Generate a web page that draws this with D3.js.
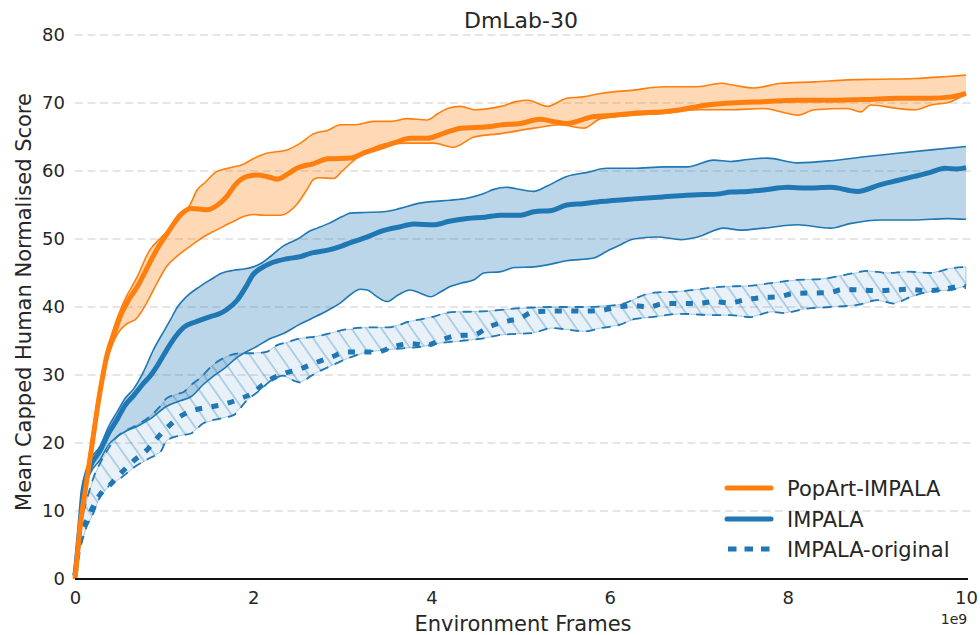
<!DOCTYPE html>
<html>
<head>
<meta charset="utf-8">
<script src="https://cdn.jsdelivr.net/npm/d3@7"></script>
<style>
  html, body { margin: 0; padding: 0; background: #fff; }
  svg text { font-family: "DejaVu Sans", sans-serif; fill: #262626; }
</style>
</head>
<body>
<svg id="chart" width="980" height="635"></svg>
<script>
// ---------------- data (x in units of 1e9 frames, y = score) ----------------
const title = "DmLab-30";
const xLabel = "Environment Frames";
const yLabel = "Mean Capped Human Normalised Score";
const xTicks = [0, 2, 4, 6, 8, 10];
const yTicks = [0, 10, 20, 30, 40, 50, 60, 70, 80];
const seriesNames = ["PopArt-IMPALA", "IMPALA", "IMPALA-original"];

const popartMean = [[0,0],[0.03,4],[0.06,8],[0.11,12.5],[0.16,17],[0.2,20.5],[0.25,25],[0.3,29],[0.36,33],[0.45,36.5],[0.52,39],[0.6,41],[0.7,43],[0.8,45.5],[0.92,48.5],[1.07,51.5],[1.18,53.5],[1.3,54.5],[1.48,54.3],[1.6,55],[1.7,56.2],[1.8,58],[1.93,59.2],[2.05,59.4],[2.15,59.2],[2.27,58.8],[2.38,59.5],[2.49,60.4],[2.68,61.1],[2.84,61.8],[3.09,61.9],[3.25,62.7],[3.46,63.6],[3.6,64.2],[3.76,64.8],[3.95,64.8],[4.15,65.6],[4.33,66.3],[4.63,66.5],[4.8,66.8],[5.0,67.0],[5.22,67.6],[5.4,67.2],[5.52,67.0],[5.82,68.0],[6.05,68.2],[6.27,68.5],[6.61,68.7],[6.8,69.0],[6.99,69.5],[7.36,70.0],[7.73,70.2],[8.11,70.4],[8.48,70.4],[8.86,70.5],[9.23,70.7],[9.61,70.7],[9.83,70.9],[10,71.4]];
const popartUpper = [[0,0],[0.03,4.5],[0.06,9],[0.11,13.5],[0.2,22],[0.3,30],[0.38,34.5],[0.45,37.5],[0.54,40.5],[0.7,44.5],[0.84,48.4],[0.95,50],[1.07,51.5],[1.2,53.5],[1.29,55],[1.37,57.2],[1.45,58.2],[1.59,59.9],[1.75,60.5],[1.89,61],[2.0,61.8],[2.15,62.6],[2.38,63.1],[2.53,64.1],[2.68,65.5],[2.84,66],[2.98,66.8],[3.15,66.8],[3.35,67.3],[3.55,67.3],[3.73,67.7],[3.95,67.5],[4.08,68.5],[4.18,69.2],[4.33,69.5],[4.48,69.0],[4.6,69.1],[4.78,69.5],[4.95,70.2],[5.08,70.4],[5.3,69.5],[5.52,70.7],[5.7,70.9],[5.9,71.4],[6.27,71.9],[6.61,72.4],[6.99,72.4],[7.25,72.9],[7.4,72.6],[7.62,72.2],[7.92,72.9],[8.3,73.1],[8.67,73.4],[9.04,73.5],[9.42,73.6],[9.79,73.9],[10,74.1]];
const popartLower = [[0,0],[0.03,3.5],[0.06,7.5],[0.11,12],[0.16,16.5],[0.2,20],[0.25,24.5],[0.3,28],[0.36,32],[0.42,34.5],[0.5,36.5],[0.58,37.5],[0.69,38.3],[0.8,40.5],[0.92,43.5],[1.03,46],[1.14,47.4],[1.3,49],[1.44,50.3],[1.63,51.6],[1.78,52.6],[1.89,53.3],[2.0,53.6],[2.12,53.5],[2.3,53.5],[2.4,54],[2.49,55.1],[2.6,57.2],[2.68,58.8],[2.75,59],[2.9,58.9],[3.0,60],[3.09,61.1],[3.2,62.3],[3.3,63.1],[3.5,64],[3.75,64.1],[4.03,64.1],[4.25,63.5],[4.48,65.0],[4.78,65.5],[5.15,66.3],[5.45,66.8],[5.71,66.3],[5.9,67.7],[6.27,68.2],[6.61,68.5],[6.99,69.0],[7.36,69.0],[7.73,69.2],[7.95,68.6],[8.11,68.2],[8.3,69.0],[8.67,69.2],[8.82,68.7],[8.93,69.7],[9.23,69.2],[9.42,69.0],[9.61,69.7],[9.83,70.2],[10,71.4]];

const impalaMean = [[0,0.5],[0.02,3],[0.06,8.7],[0.09,13],[0.17,16.5],[0.28,18.8],[0.38,21.5],[0.47,23.4],[0.56,25.5],[0.66,27],[0.77,28.8],[0.84,29.8],[0.93,31.5],[1.03,33.7],[1.12,35.5],[1.22,37],[1.35,37.8],[1.52,38.6],[1.62,39],[1.7,39.6],[1.82,41],[1.92,43],[2.0,44.8],[2.1,45.8],[2.19,46.4],[2.38,47.1],[2.53,47.4],[2.64,47.9],[2.85,48.4],[3.0,49],[3.1,49.5],[3.28,50.3],[3.45,51.2],[3.65,51.8],[3.8,52.2],[4.03,52.1],[4.2,52.6],[4.4,53.0],[4.6,53.2],[4.78,53.5],[5.0,53.5],[5.15,54.0],[5.35,54.2],[5.52,55.0],[5.7,55.2],[5.9,55.5],[6.27,55.9],[6.61,56.2],[6.99,56.5],[7.2,56.6],[7.36,56.9],[7.55,57.0],[7.73,57.2],[8.0,57.6],[8.2,57.5],[8.48,57.6],[8.78,57.0],[9.04,58.0],[9.23,58.6],[9.42,59.2],[9.6,59.8],[9.76,60.4],[9.9,60.3],[10,60.5]];
const impalaUpper = [[0,0.5],[0.02,3.5],[0.06,9.5],[0.09,14],[0.17,17.5],[0.28,19.5],[0.38,22.5],[0.47,24.5],[0.56,26.5],[0.66,28],[0.77,30.5],[0.88,33.7],[1.0,36.5],[1.07,38.1],[1.15,40],[1.25,41.5],[1.4,43],[1.52,44],[1.65,45],[1.78,45.4],[1.9,45.6],[2.0,45.9],[2.1,46.5],[2.2,47.5],[2.34,49],[2.5,50],[2.64,51.2],[2.72,51.6],[2.85,52.3],[3.0,53.3],[3.09,53.8],[3.25,53.9],[3.46,54.0],[3.65,54.5],[3.84,55.2],[4.0,55.5],[4.21,55.7],[4.4,56.0],[4.59,56.7],[4.7,57.3],[4.85,57.6],[4.95,57.4],[5.15,57.0],[5.3,57.8],[5.52,59.2],[5.75,59.8],[5.97,60.4],[6.27,60.4],[6.61,60.6],[6.87,60.6],[7.17,61.6],[7.36,61.4],[7.55,61.7],[7.77,61.9],[8.11,61.2],[8.48,61.5],[8.86,62.1],[9.23,62.6],[9.61,63.1],[10,63.6]];
const impalaLower = [[0,0.5],[0.02,2.5],[0.06,8],[0.09,12],[0.17,15.5],[0.28,17.5],[0.38,19.8],[0.47,20.9],[0.58,21.8],[0.69,22.4],[0.84,23.5],[1.03,25.4],[1.18,26.2],[1.3,26.8],[1.44,28.6],[1.55,29.8],[1.68,31],[1.82,32.6],[2.04,34.2],[2.2,35.4],[2.34,36.1],[2.5,37.3],[2.64,38.2],[2.85,39.6],[2.98,40.6],[3.09,41.8],[3.2,42.6],[3.28,42.5],[3.38,41.6],[3.5,40.8],[3.63,41.8],[3.76,42.5],[3.88,42.0],[3.99,41.5],[4.1,42.2],[4.21,43.0],[4.33,43.5],[4.48,44.0],[4.59,45.0],[4.78,45.2],[4.93,45.8],[5.15,45.9],[5.3,46.2],[5.52,46.8],[5.82,47.2],[5.97,48.2],[6.1,49],[6.27,50.0],[6.54,50.3],[6.8,49.9],[6.99,50.3],[7.28,51.6],[7.47,51.3],[7.73,51.6],[8.11,52.1],[8.48,51.6],[8.71,52.3],[9.04,52.8],[9.42,52.8],[9.79,53.0],[10,52.9]];

const originalMean = [[0,0.5],[0.03,3.5],[0.06,5.7],[0.17,9.7],[0.28,12.4],[0.39,13.8],[0.51,15.5],[0.66,17.4],[0.81,19.0],[0.92,20.7],[1.03,22.2],[1.18,23.9],[1.33,24.8],[1.52,25.3],[1.7,25.8],[1.85,26.5],[2.0,27.4],[2.1,28.5],[2.19,29.3],[2.34,30.2],[2.53,30.9],[2.68,31.7],[2.87,32.6],[3.05,33.4],[3.39,33.4],[3.58,34.2],[3.76,34.6],[3.95,34.4],[4.10,35.1],[4.29,35.8],[4.48,35.9],[4.63,37.0],[4.81,37.8],[5.0,38.4],[5.15,39.3],[5.34,39.4],[5.52,39.4],[5.71,39.4],[5.9,39.5],[6.09,40.0],[6.27,40.2],[6.44,40.0],[6.61,40.5],[6.99,40.5],[7.17,40.8],[7.34,40.6],[7.53,41.1],[7.72,41.4],[7.9,41.5],[8.07,42.0],[8.45,42.1],[8.63,42.6],[9.01,42.4],[9.19,42.5],[9.36,42.6],[9.55,42.4],[9.74,42.6],[9.92,43.0],[10,43.0]];
const originalUpper = [[0,0.5],[0.02,3.5],[0.06,7.5],[0.13,11.5],[0.21,15],[0.3,17.5],[0.39,19.5],[0.47,20.9],[0.58,21.9],[0.69,22.6],[0.84,23.9],[0.95,25.3],[1.03,26.6],[1.15,27.2],[1.22,27.5],[1.3,28.5],[1.4,29.5],[1.55,31.5],[1.7,32.7],[1.85,33.2],[2.0,33.2],[2.15,33.4],[2.27,34.4],[2.38,34.8],[2.53,35.4],[2.68,35.6],[2.85,36.1],[3.0,36.6],[3.28,37.0],[3.5,37.0],[3.65,37.4],[3.73,37.8],[3.84,38.1],[4.03,38.6],[4.15,39.1],[4.29,39.3],[4.4,39.3],[4.63,39.4],[4.96,39.8],[5.34,40.0],[5.71,40.0],[6.09,40.3],[6.2,40.7],[6.3,41.3],[6.39,41.8],[6.5,42.1],[6.8,42.3],[6.99,42.6],[7.28,43.0],[7.55,43.1],[7.81,43.5],[8.11,44.0],[8.37,44.1],[8.63,44.7],[8.9,45.3],[9.12,45.0],[9.35,45.2],[9.61,45.0],[9.83,45.7],[10,45.9]];
const originalLower = [[0,0.5],[0.02,3.5],[0.06,4.8],[0.13,7.7],[0.2,9.5],[0.28,12.1],[0.39,13.8],[0.51,14.8],[0.66,16.4],[0.84,17.8],[0.96,18.7],[1.03,20.4],[1.18,21.1],[1.3,21.4],[1.44,22.9],[1.63,23.6],[1.78,24.1],[1.93,26.3],[2.08,27.8],[2.2,29.2],[2.34,29.9],[2.45,29.2],[2.53,28.9],[2.64,29.8],[2.72,30.4],[2.9,31.5],[3.09,32.6],[3.28,33.4],[3.65,33.9],[3.91,34.2],[4.1,34.7],[4.4,35.1],[4.59,35.4],[4.78,35.9],[5.15,36.2],[5.34,36.9],[5.52,36.7],[5.71,36.4],[5.9,36.9],[6.12,37.4],[6.27,38.2],[6.46,38.5],[6.8,39.0],[7.17,38.8],[7.36,38.8],[7.58,38.5],[7.81,39.3],[7.96,39.1],[8.18,39.7],[8.48,40.0],[8.78,40.3],[9.01,41.0],[9.19,40.5],[9.38,41.5],[9.61,42.3],[9.83,42.5],[10,43.1]];

// ---------------- drawing ----------------
const ORANGE = "#ff7f0e", BLUE = "#1f77b4";
const svg = d3.select("#chart");
const x = d3.scaleLinear().domain([0, 10]).range([75, 966]);
const y = d3.scaleLinear().domain([0, 80]).range([579, 35]);

const defs = svg.append("defs");
const pat = defs.append("pattern")
  .attr("id", "hatch").attr("patternUnits", "userSpaceOnUse")
  .attr("width", 12.3).attr("height", 20)
  .attr("patternTransform", "rotate(-35)");
pat.append("line").attr("x1", 1).attr("y1", 0).attr("x2", 1).attr("y2", 20)
  .attr("stroke", BLUE).attr("stroke-opacity", 0.55).attr("stroke-width", 1);

// gridlines (horizontal, dashed)
const grid = svg.append("g");
grid.selectAll("line").data(yTicks.filter(d => d > 0)).join("line")
  .attr("x1", 75).attr("x2", 975)
  .attr("y1", d => y(d)).attr("y2", d => y(d))
  .attr("stroke", "#cccccc").attr("stroke-width", 1)
  .attr("stroke-dasharray", "8,4.5");

const line = d3.line().x(d => x(d[0])).y(d => y(d[1])).curve(d3.curveMonotoneX);
function band(upper, lower) {
  const pts = upper.concat(lower.slice().reverse());
  return d3.line().x(d => x(d[0])).y(d => y(d[1]))(pts) + "Z";
}

// band fills
svg.append("path").attr("d", band(impalaUpper, impalaLower))
  .attr("fill", BLUE).attr("fill-opacity", 0.3);
svg.append("path").attr("d", band(popartUpper, popartLower))
  .attr("fill", ORANGE).attr("fill-opacity", 0.3);
svg.append("path").attr("d", band(originalUpper, originalLower))
  .attr("fill", BLUE).attr("fill-opacity", 0.1)
  .attr("stroke", BLUE).attr("stroke-opacity", 0.35).attr("stroke-width", 1);
svg.append("path").attr("d", band(originalUpper, originalLower))
  .attr("fill", "url(#hatch)");

// band edges
[originalUpper, originalLower].forEach(s => {
  svg.append("path").attr("d", line(s)).attr("fill", "none")
    .attr("stroke", BLUE).attr("stroke-width", 1.8).attr("stroke-dasharray", "9,7");
});
[impalaUpper, impalaLower].forEach(s => {
  svg.append("path").attr("d", line(s)).attr("fill", "none")
    .attr("stroke", BLUE).attr("stroke-width", 1.6);
});
[popartUpper, popartLower].forEach(s => {
  svg.append("path").attr("d", line(s)).attr("fill", "none")
    .attr("stroke", ORANGE).attr("stroke-width", 1.6);
});

// means
svg.append("path").attr("d", line(originalMean)).attr("fill", "none")
  .attr("stroke", BLUE).attr("stroke-width", 5).attr("stroke-dasharray", "7,9.5");
svg.append("path").attr("d", line(impalaMean)).attr("fill", "none")
  .attr("stroke", BLUE).attr("stroke-width", 5);
svg.append("path").attr("d", line(popartMean)).attr("fill", "none")
  .attr("stroke", ORANGE).attr("stroke-width", 5);

// x axis baseline
svg.append("line").attr("x1", x(0)).attr("x2", x(10) + 2)
  .attr("y1", y(0)).attr("y2", y(0))
  .attr("stroke", "#111").attr("stroke-width", 2);

// axes labels via d3 axes (no domain, no tick lines)
const xAxis = svg.append("g").attr("transform", `translate(0,${y(0)})`)
  .call(d3.axisBottom(x).tickValues(xTicks).tickSize(0).tickPadding(12).tickFormat(d3.format("d")));
xAxis.select(".domain").remove();
xAxis.selectAll("text").attr("font-size", 18).attr("font-family", "DejaVu Sans").attr("fill", "#262626");

const yAxis = svg.append("g").attr("transform", `translate(${x(0)},0)`)
  .call(d3.axisLeft(y).tickValues(yTicks).tickSize(0).tickPadding(10).tickFormat(d3.format("d")));
yAxis.select(".domain").remove();
yAxis.selectAll("text").attr("font-size", 18).attr("font-family", "DejaVu Sans").attr("fill", "#262626");

svg.append("text").attr("x", 521).attr("y", 28).attr("text-anchor", "middle")
  .attr("font-size", 22).text(title);
svg.append("text").attr("x", 523).attr("y", 631).attr("text-anchor", "middle")
  .attr("font-size", 21).text(xLabel);
svg.append("text").attr("transform", "translate(31,302) rotate(-90)")
  .attr("text-anchor", "middle").attr("font-size", 21).text(yLabel);
svg.append("text").attr("x", 954).attr("y", 624).attr("text-anchor", "middle")
  .attr("font-size", 14).text("1e9");

// legend
const legendY = [488, 519, 549];
const legendStyles = [
  {color: ORANGE, dash: null},
  {color: BLUE, dash: null},
  {color: BLUE, dash: "8.5,8"}
];
const lg = svg.append("g");
seriesNames.forEach((name, i) => {
  const l = lg.append("line").attr("x1", 727).attr("x2", 771)
    .attr("y1", legendY[i]).attr("y2", legendY[i])
    .attr("stroke", legendStyles[i].color).attr("stroke-width", 5);
  if (legendStyles[i].dash) l.attr("stroke-dasharray", legendStyles[i].dash).attr("x1", 728);
  else l.attr("stroke-linecap", "round");
  lg.append("text").attr("x", 787).attr("y", legendY[i] + 7.5)
    .attr("font-size", 21).text(name);
});
</script>
</body>
</html>
